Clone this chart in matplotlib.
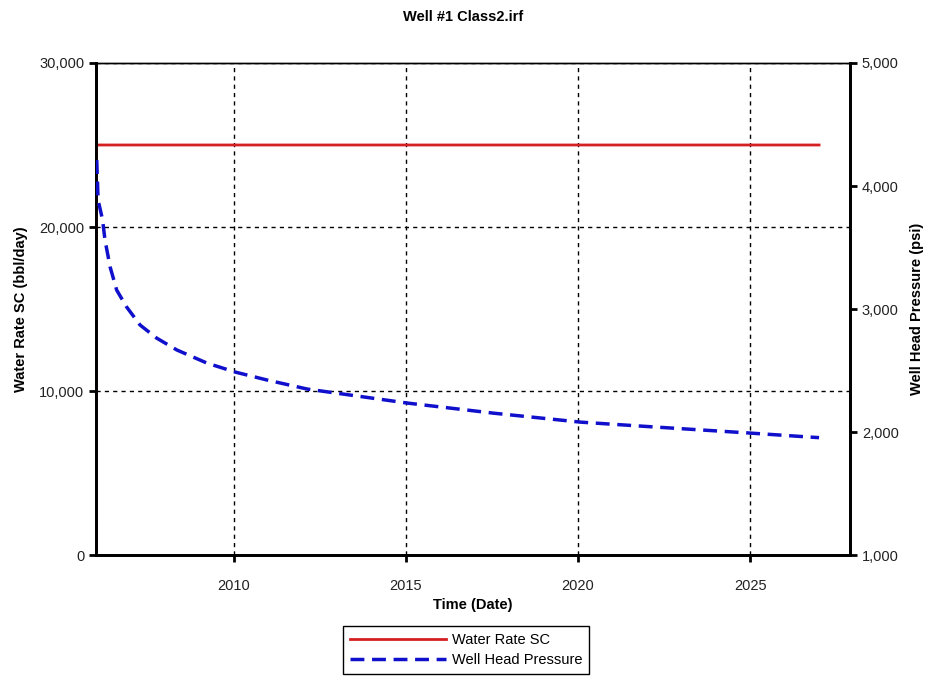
import matplotlib.pyplot as plt
from matplotlib.ticker import FuncFormatter
from matplotlib.lines import Line2D

plt.rcParams['font.family'] = ['Liberation Sans', 'DejaVu Sans']

# Daten
rate_years = [2006.0, 2006.01, 2027.0]
water_rate = [0, 25000, 25000]

pressure_years = [2006.02, 2006.06, 2006.19, 2006.26, 2006.41, 2006.60, 2006.89,
                  2007.28, 2007.76, 2008.35, 2009.22, 2010.04, 2010.97, 2012.13,
                  2013.18, 2015.04, 2017.54, 2020.07, 2021.81, 2025.0, 2026.76, 2027.0]
well_head_pressure = [4211, 3886, 3724, 3561, 3341, 3154, 3016,
                      2870, 2764, 2667, 2561, 2488, 2423, 2350,
                      2309, 2236, 2154, 2081, 2049, 1992, 1959, 1955]

x_ticks = [2010, 2015, 2020, 2025]
left_ticks = [0, 10000, 20000, 30000]
right_ticks = [1000, 2000, 3000, 4000, 5000]

red = '#d42020'
blue = '#1010cc'

fig = plt.figure(figsize=(9.27, 6.77), dpi=100)
ax1 = fig.add_axes([0.1036, 0.180, 0.8134, 0.727])
ax2 = ax1.twinx()

ax1.plot(rate_years, water_rate, color=red, lw=2, zorder=3)
ax2.plot(pressure_years, well_head_pressure, color=blue, lw=2.5,
         dashes=(4, 2.2), zorder=3)

ax1.set_xlim(2006.0, 2027.9)
ax1.set_ylim(0, 30000)
ax2.set_ylim(1000, 5000)
ax1.set_xticks(x_ticks)
ax1.set_yticks(left_ticks)
ax2.set_yticks(right_ticks)

comma = FuncFormatter(lambda v, p: f"{int(v):,}")
ax1.yaxis.set_major_formatter(comma)
ax2.yaxis.set_major_formatter(comma)

ax1.grid(True, color='black', linestyle=(0, (3, 3)), lw=1)
ax1.set_axisbelow(True)

for ax in (ax1, ax2):
    ax.tick_params(direction='out', length=5, width=2, labelsize=10.5,
                   labelcolor='#222222')
    for s in ('left', 'right', 'bottom'):
        ax.spines[s].set_linewidth(2)
    ax.spines['top'].set_linewidth(1)
ax1.tick_params(axis='x', pad=12)

ax1.set_xlabel("Time (Date)", fontsize=10.5, fontweight='bold', labelpad=4)
ax1.set_ylabel("Water Rate SC (bbl/day)", fontsize=10.5, fontweight='bold', labelpad=8)
ax2.set_ylabel("Well Head Pressure (psi)", fontsize=10.5, fontweight='bold', labelpad=8)
fig.suptitle("Well #1 Class2.irf", fontsize=10.5, fontweight='bold', y=0.985)

handles = [Line2D([], [], color=red, lw=2),
           Line2D([], [], color=blue, lw=2.5, dashes=(4, 2.2))]
leg = fig.legend(handles, ["Water Rate SC", "Well Head Pressure"],
                 loc='center', bbox_to_anchor=(0.503, 0.04), fontsize=10.5,
                 handlelength=6.6, handletextpad=0.4, labelspacing=0.45,
                 borderpad=0.45, fancybox=False, edgecolor='black', framealpha=1)
leg.get_frame().set_linewidth(1)

fig.savefig("out.png", dpi=100)
